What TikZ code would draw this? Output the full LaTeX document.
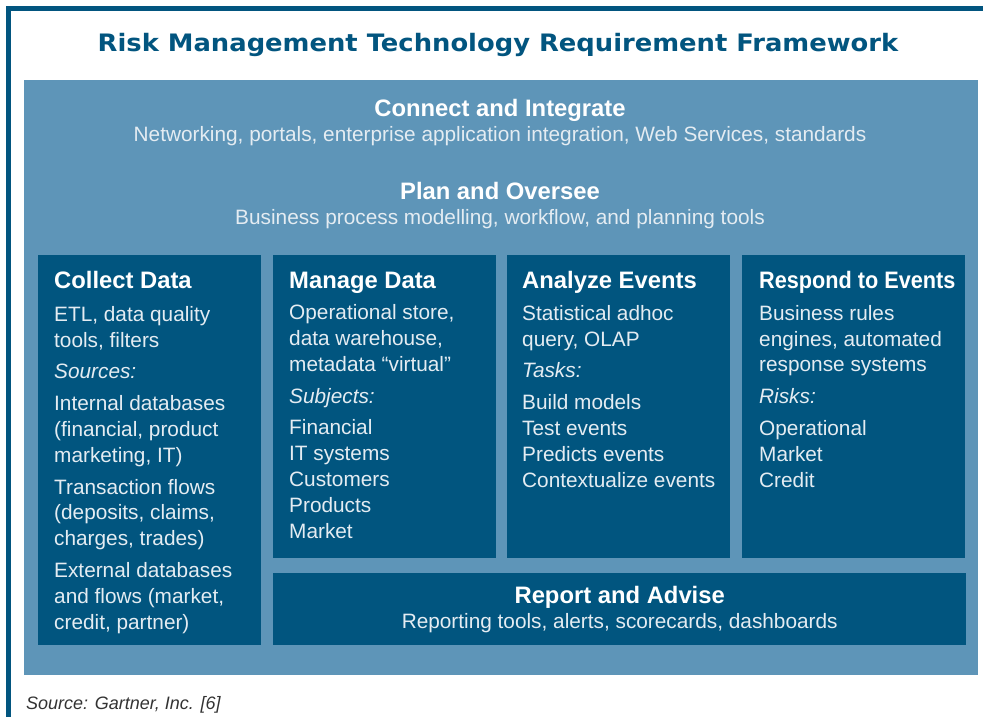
\documentclass[tikz,border=0pt]{standalone}
\usepackage{graphicx}
\usepackage{fontspec}
\setmainfont{Liberation Sans}
\newfontfamily\titlefont{DejaVu Sans}
\usetikzlibrary{positioning}

\definecolor{frameblue}{HTML}{02557F}
\definecolor{panelblue}{HTML}{5E95B8}
\definecolor{boxblue}{HTML}{01557F}
\definecolor{bodytext}{HTML}{E4ECF2}
\definecolor{sourcegray}{HTML}{333333}

\tikzset{
  panel/.style={fill=panelblue, draw=none, anchor=north west, inner sep=0pt},
  block/.style={fill=boxblue, draw=none, anchor=north west, inner sep=0pt,
    minimum width=223pt, minimum height=303pt},
  head/.style={text=white, font={\fontsize{23.8}{28}\selectfont\bfseries},
    inner sep=0pt, anchor=base west},
  body/.style={text=bodytext, font={\fontsize{20.8}{25.8}\selectfont},
    inner sep=0pt, align=left, anchor=base west},
  layerhead/.style={head, anchor=base},
  layertext/.style={body, align=center, anchor=base}
}

\begin{document}
\begin{tikzpicture}[x=1pt, y=-1pt]
  \useasboundingbox (0,0) rectangle (983,717);

  % outer frame, top and left only
  \draw[frameblue, line width=5pt] (8.5,717) -- (8.5,8.5) -- (983,8.5);

  \node (title) at (498,52) [anchor=base, text=frameblue, inner sep=0pt,
    font={\titlefont\fontsize{24}{28}\selectfont\bfseries}]
    {\scalebox{1.075}[1]{Risk Management Technology Requirement Framework}};

  \node (panel) at (24,80) [panel, minimum width=954pt, minimum height=595pt] {};

  % horizontal layers
  \node (connect) at (500,116.5) [layerhead] {Connect and Integrate};
  \node (connectsub) at (500,141) [layertext]
    {Networking, portals, enterprise application integration, Web Services, standards};
  \node (plan) at (500,199) [layerhead] {Plan and Oversee};
  \node (plansub) at (500,224) [layertext]
    {Business process modelling, workflow, and planning tools};

  % columns
  \node (collect) at (38,255) [block, minimum height=390pt] {};
  \node (manage) at (273,255) [block] {};
  \node (analyze) at (507,255) [block] {};
  \node (respond) at (742,255) [block] {};
  \node (report) at (273,573) [block, minimum width=693pt, minimum height=72pt] {};

  % body nodes sit on the baseline of their last line
  \node (collecthead) at ([shift={(16,33)}]collect.north west) [head] {Collect Data};
  \node (collectbody) at ([shift={(16,374)}]collect.north west) [body]
    {ETL, data quality\\tools, filters\\[6pt]
     \itshape Sources:\\[6pt]
     Internal databases\\(financial, product\\marketing, IT)\\[6pt]
     Transaction flows\\(deposits, claims,\\charges, trades)\\[6pt]
     External databases\\and flows (market,\\credit, partner)};

  \node (managehead) at ([shift={(16,33)}]manage.north west) [head] {Manage Data};
  \node (managebody) at ([shift={(16,283)}]manage.north west) [body]
    {Operational store,\\data warehouse,\\metadata “virtual”\\[6pt]
     \itshape Subjects:\\[6pt]
     Financial\\IT systems\\Customers\\Products\\Market};

  \node (analyzehead) at ([shift={(15,33)}]analyze.north west) [head] {Analyze Events};
  \node (analyzebody) at ([shift={(15,232)}]analyze.north west) [body]
    {Statistical adhoc\\query, OLAP\\[6pt]
     \itshape Tasks:\\[6pt]
     Build models\\Test events\\Predicts events\\Contextualize events};

  \node (respondhead) at ([shift={(17,33)}]respond.north west) [head]
    {\scalebox{0.91}[1]{Respond to Events}};
  \node (respondbody) at ([shift={(17,232)}]respond.north west) [body]
    {Business rules\\engines, automated\\response systems\\[6pt]
     \itshape Risks:\\[6pt]
     Operational\\Market\\Credit};

  \node (reporthead) at ([shift={(0,30)}]report.north) [layerhead] {Report and Advise};
  \node (reportsub) at ([shift={(0,55)}]report.north) [layertext]
    {Reporting tools, alerts, scorecards, dashboards};

  \node (source) at (26,709) [anchor=base west, inner sep=0pt, text=sourcegray,
    font={\fontsize{18}{22}\selectfont\itshape}] {Source: Gartner, Inc. [6]};
\end{tikzpicture}
\end{document}
